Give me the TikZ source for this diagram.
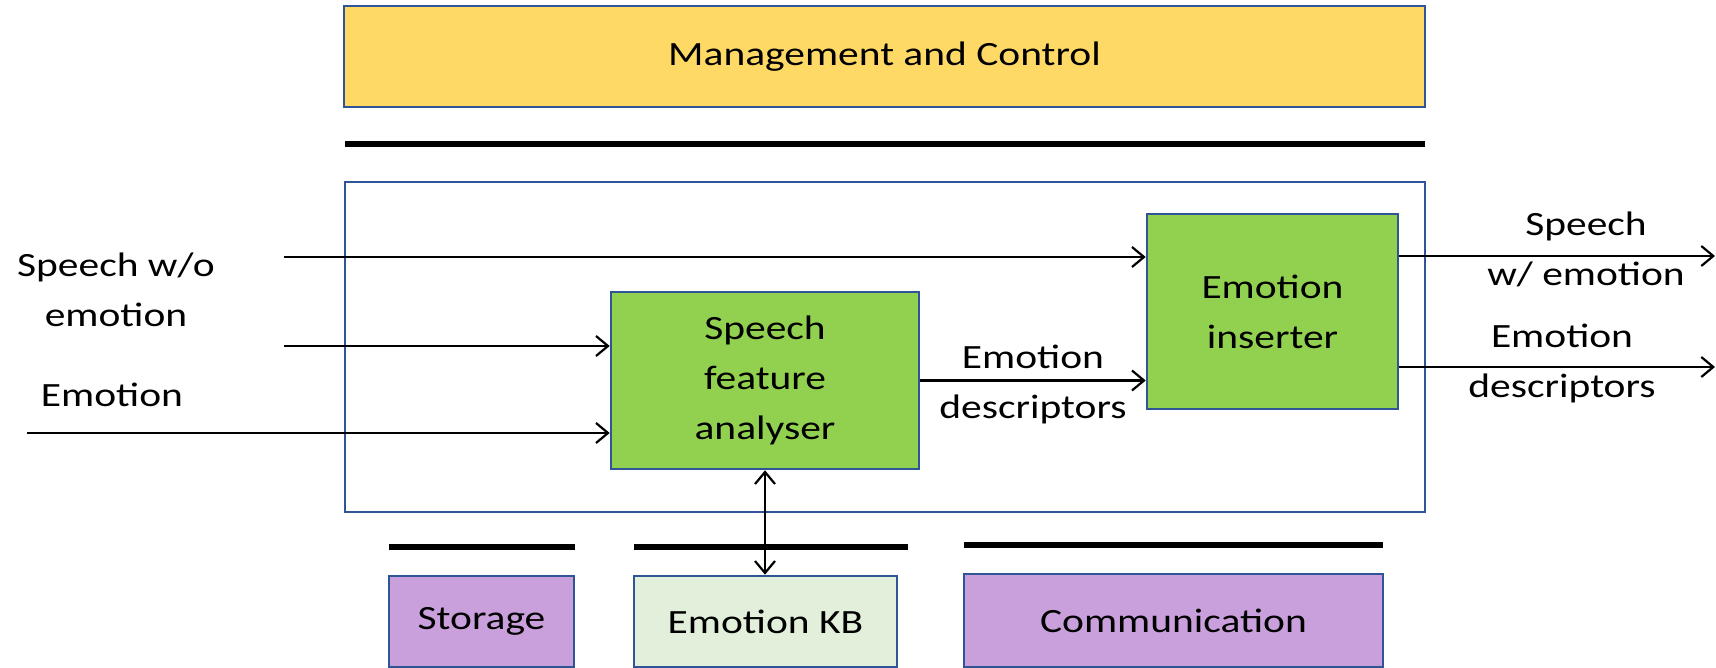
\documentclass[tikz,border=0pt]{standalone}
\usepackage{fontspec}
\setmainfont{Carlito}[FakeStretch=1.22]
\usepackage{tikz}
\usetikzlibrary{arrows.meta}

\definecolor{mcgold}{HTML}{FFD966}
\definecolor{boxgreen}{HTML}{92D050}
\definecolor{kbgreen}{HTML}{E2EFDA}
\definecolor{suplilac}{HTML}{C9A0DC}
\definecolor{edgeblue}{HTML}{2F5597}

\tikzset{
  lbl/.style={font=\fontsize{17pt}{25pt}\selectfont, align=center, inner sep=0pt},
  blk/.style={lbl, draw=edgeblue, line width=1.3pt},
  arr/.style={line width=1.1pt, -{Straight Barb[length=6pt,width=10pt]}},
  bar/.style={line width=2.6pt}
}

\begin{document}
\begin{tikzpicture}[x=0.5pt, y=-0.5pt]
\useasboundingbox (0,0) rectangle (1716,668);
\node[blk, fill=mcgold, minimum width=540.5pt, minimum height=50.5pt] (mc) at (884.5,56.5) {Management and Control};
\draw[bar, line width=2.8pt] (345,144) -- (1425,144);
\node[draw=edgeblue, line width=0.9pt, minimum width=540pt, minimum height=165pt] (core) at (885,347) {};
\node[blk, fill=boxgreen, minimum width=154pt, minimum height=88.5pt] (sfa) at (765,380.5) {Speech\\feature\\analyser};
\node[blk, fill=boxgreen, minimum width=125.5pt, minimum height=97.5pt] (ins) at (1272.5,311.5) {Emotion\\inserter};
% support blocks
\draw[bar] (389,547) -- (575,547);
\draw[bar] (634,547) -- (908,547);
\draw[bar] (964,545) -- (1383,545);
\node[blk, fill=suplilac, minimum width=92.5pt, minimum height=45.5pt] (st) at (481.5,621.5) {Storage};
\node[blk, fill=kbgreen, minimum width=131.5pt, minimum height=45.5pt] (kb) at (765.5,621.5) {Emotion KB};
\node[blk, fill=suplilac, minimum width=209.5pt, minimum height=46.5pt] (com) at (1173.5,620.5) {Communication};
% inputs
\coordinate (in1) at (284,257);
\coordinate (in2) at (284,346);
\coordinate (in3) at (27,433);
\node[lbl] (spin) at (116,290) {Speech w/o\\emotion};
\node[lbl] (emin) at (112,395) {Emotion};
\draw[arr] (in1) -- (in1 -| ins.west);
\draw[arr] (in2) -- (in2 -| sfa.west);
\draw[arr] (in3) -- (in3 -| sfa.west);
\draw[arr] (sfa.east) -- (sfa.east -| ins.west) node[lbl, midway, yshift=-2pt] (edmid) {Emotion\\descriptors};
\draw[line width=1.1pt, {Straight Barb[length=6pt,width=10pt]}-{Straight Barb[length=6pt,width=10pt]}] (sfa.south) -- (sfa.south |- kb.north);
% outputs
\coordinate (out1) at (1715,256);
\coordinate (out2) at (1715,367);
\draw[arr] (out1 -| ins.east) -- (out1);
\draw[arr] (out2 -| ins.east) -- (out2);
\node[lbl] (spout) at (1586,249) {Speech\\w/ emotion};
\node[lbl] (edout) at (1562,363) {Emotion\\descriptors};
\end{tikzpicture}
\end{document}
